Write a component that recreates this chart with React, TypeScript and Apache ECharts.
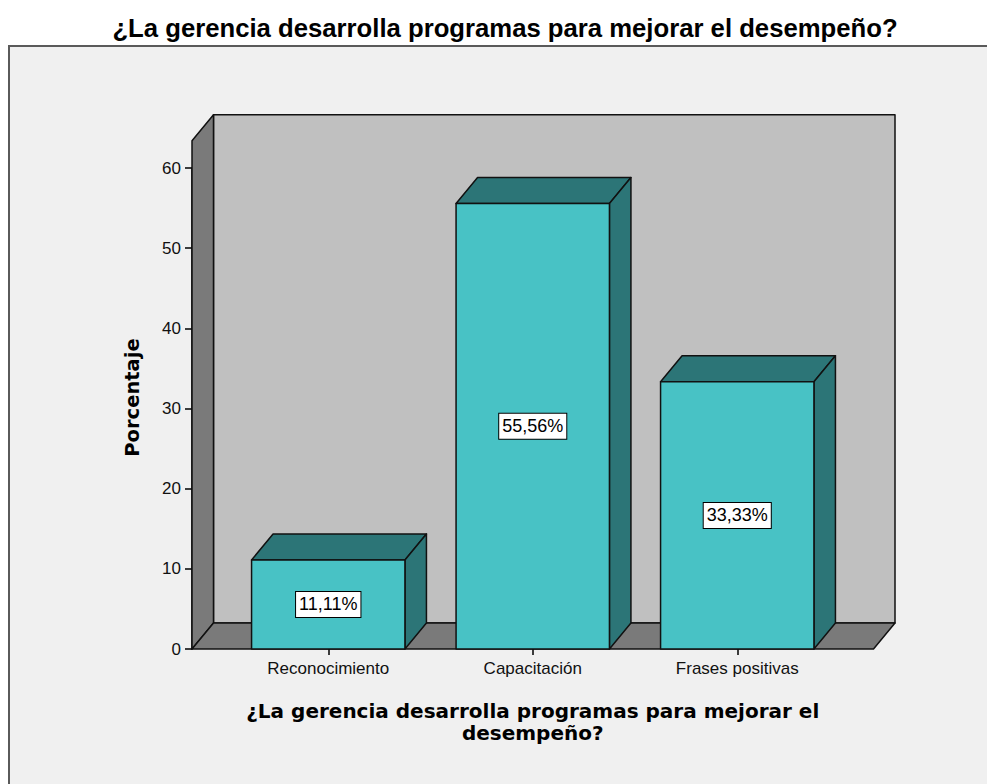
import React, { useEffect, useRef } from "react";
import * as echarts from "echarts";

const categories = ["Reconocimiento", "Capacitación", "Frases positivas"];
const percentages = [11.11, 55.56, 33.33];
const yMin = 0;
const yMax = 60;
const yInterval = 10;
const wallTopValue = 63.4;
const chartTitle = "¿La gerencia desarrolla programas para mejorar el desempeño?";
const xAxisName = "¿La gerencia desarrolla programas para mejorar el\ndesempeño?";
const yAxisName = "Porcentaje";

const DX = 21.5;
const DY = -26;
const SIDE_EXT = 34;
const STROKE = "#111";
const LW = 1.5;

const fmt = (v: number) => v.toFixed(2).replace(".", ",") + "%";

export default function App() {
  const ref = useRef<HTMLDivElement>(null);
  useEffect(() => {
    if (!ref.current) return;
    const chart = echarts.init(ref.current, null, { renderer: "svg" });
    const option: any = {
      animation: false,
      backgroundColor: "#ffffff",
      graphic: [
        {
          type: "rect",
          z: -100,
          silent: true,
          shape: { x: 9, y: 46, width: 1000, height: 760 },
          style: { fill: "#f0f0f0", stroke: "#5a5a5a", lineWidth: 2 },
        },
        {
          type: "text",
          z: 10,
          x: 505,
          y: 28,
          style: {
            text: chartTitle,
            align: "center",
            verticalAlign: "middle",
            fill: "#000",
            fontFamily: '"Liberation Sans", Arial, sans-serif',
            fontWeight: "bold",
            fontSize: 25.7,
          },
        },
      ],
      grid: { left: 226, right: 147.5, top: 168, bottom: 135 },
      xAxis: {
        type: "category",
        data: categories,
        axisLine: { show: false },
        axisTick: { show: true, alignWithLabel: true, length: 6, lineStyle: { color: "#000", width: 1.5 } },
        axisLabel: {
          color: "#111",
          fontSize: 17,
          fontFamily: '"Liberation Sans", Arial, sans-serif',
          margin: 11,
        },
        name: xAxisName,
        nameLocation: "middle",
        nameGap: 51,
        nameTextStyle: {
          color: "#000",
          fontFamily: '"DejaVu Sans", sans-serif',
          fontWeight: "bold",
          fontSize: 20,
          lineHeight: 22,
        },
      },
      yAxis: {
        type: "value",
        min: yMin,
        max: yMax,
        interval: yInterval,
        offset: SIDE_EXT,
        splitLine: { show: false },
        axisLine: { show: true, lineStyle: { color: "#000", width: 1.5 } },
        axisTick: { show: true, length: 7, lineStyle: { color: "#000", width: 1.5 } },
        axisLabel: {
          color: "#111",
          fontSize: 17,
          fontFamily: '"Liberation Sans", Arial, sans-serif',
          margin: 11,
        },
        name: yAxisName,
        nameLocation: "middle",
        nameGap: 50,
        nameTextStyle: {
          color: "#000",
          fontFamily: '"DejaVu Sans", sans-serif',
          fontWeight: "bold",
          fontSize: 19.5,
          padding: [0, 0, 0, 22],
        },
      },
      series: [
        {
          type: "custom",
          name: "walls",
          silent: true,
          z: 1,
          data: [[0, 0]],
          renderItem: (params: any, api: any) => {
            const cs = params.coordSys;
            const L = cs.x - SIDE_EXT;
            const R = cs.x + cs.width + SIDE_EXT;
            const y0 = api.coord([0, yMin])[1];
            const yT = api.coord([0, wallTopValue])[1];
            const st = (fill: string) => ({ fill, stroke: STROKE, lineWidth: LW, lineJoin: "round" });
            return {
              type: "group",
              children: [
                {
                  type: "rect",
                  shape: { x: L + DX, y: yT + DY, width: R - L, height: y0 - yT },
                  style: st("#c0c0c0"),
                },
                {
                  type: "polygon",
                  shape: { points: [[L, yT], [L + DX, yT + DY], [L + DX, y0 + DY], [L, y0]] },
                  style: st("#7a7a7a"),
                },
                {
                  type: "polygon",
                  shape: { points: [[L, y0], [L + DX, y0 + DY], [R + DX, y0 + DY], [R, y0]] },
                  style: st("#7a7a7a"),
                },
              ],
            };
          },
        },
        {
          type: "custom",
          name: "Porcentaje",
          z: 3,
          data: percentages.map((v, i) => [i, v]),
          encode: { x: 0, y: 1 },
          renderItem: (params: any, api: any) => {
            const idx = api.value(0);
            const val = api.value(1);
            const top = api.coord([idx, val]);
            const base = api.coord([idx, 0]);
            const bw = api.size([1, 0])[0] * 0.75;
            const x1 = top[0] - bw / 2;
            const x2 = top[0] + bw / 2;
            const yv = top[1];
            const y0 = base[1];
            const st = (fill: string) => ({ fill, stroke: STROKE, lineWidth: LW, lineJoin: "round" });
            return {
              type: "group",
              children: [
                {
                  type: "polygon",
                  shape: { points: [[x1, yv], [x1 + DX, yv + DY], [x2 + DX, yv + DY], [x2, yv]] },
                  style: st("#2c7577"),
                },
                {
                  type: "polygon",
                  shape: { points: [[x2, yv], [x2 + DX, yv + DY], [x2 + DX, y0 + DY], [x2, y0]] },
                  style: st("#2c7577"),
                },
                {
                  type: "rect",
                  shape: { x: x1, y: yv, width: bw, height: y0 - yv },
                  style: st("#48c2c5"),
                },
                {
                  type: "text",
                  x: top[0],
                  y: (yv + y0) / 2,
                  z2: 10,
                  style: {
                    text: fmt(val),
                    align: "center",
                    verticalAlign: "middle",
                    fill: "#000",
                    fontSize: 18,
                    fontFamily: '"Liberation Sans", Arial, sans-serif',
                    backgroundColor: "#fff",
                    borderColor: "#000",
                    borderWidth: 1,
                    padding: [4, 3, 3, 3],
                  },
                },
              ],
            };
          },
        },
      ],
    };
    chart.setOption(option);
    return () => chart.dispose();
  }, []);
  return <div ref={ref} style={{ position: "absolute", left: 0, top: 0, width: 987, height: 784 }} />;
}
